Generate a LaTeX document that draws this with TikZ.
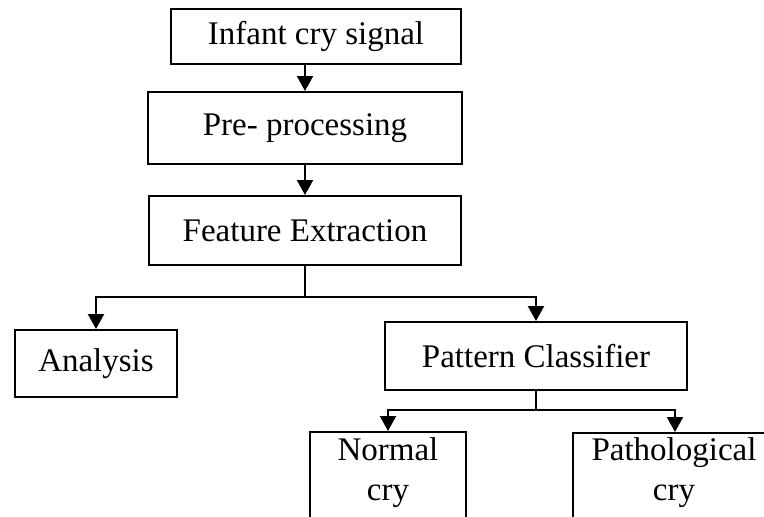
\documentclass[tikz,border=0pt]{standalone}
\usepackage{fontspec}
\setmainfont{Liberation Serif}
\usetikzlibrary{arrows.meta}
\begin{document}
\begin{tikzpicture}[x=1pt,y=-1pt,
  box/.style={draw, line width=2pt, rectangle, inner sep=0pt,
    font=\fontsize{33}{40}\selectfont},
  lbl/.style={font=\fontsize{33}{40}\selectfont, align=center, inner sep=0pt},
  link/.style={line width=2.2pt, -{Triangle[width=16pt,length=15pt]}},
  wire/.style={line width=2.2pt}]
\useasboundingbox (0,0) rectangle (764,517);
\clip (0,0) rectangle (764,517);

% main chain
\node[box, minimum width=290, minimum height=55] (sig) at (316,36.5) {Infant cry signal};
\node[box, minimum width=314, minimum height=72] (pre) at (305,128) {Pre- processing};
\node[box, minimum width=312, minimum height=69] (feat) at (305,230.5) {Feature Extraction};

% second level
\node[box, minimum width=162, minimum height=67] (ana) at (96,363.5) {Analysis};
\node[box, minimum width=302, minimum height=68] (pat) at (536,356) {Pattern Classifier};

% outcome boxes (run past the lower edge)
\node[box, minimum width=156, minimum height=120, anchor=north] (normal) at (388,431) {};
\node[box, minimum width=204, minimum height=120, anchor=north] (patho) at (675,432) {};
\node[lbl, anchor=north] (normaltxt) at (388,437) {Normal\\cry};
\node[lbl, anchor=north] (pathotxt) at (674,437) {Pathological\\cry};

% connectors
\draw[link] (sig.south -| pre.north) -- (pre.north);
\draw[link] (pre.south) -- (feat.north);
\draw[wire] (feat.south) -- ++(0,31) coordinate (split1);
\draw[link] (split1) -| (ana.north);
\draw[link] (split1) -| (pat.north);
\draw[wire] (pat.south) -- ++(0,19) coordinate (split2);
\draw[link] (split2) -| (normal.north);
\draw[link] (split2) -| (patho.north);
\end{tikzpicture}
\end{document}
